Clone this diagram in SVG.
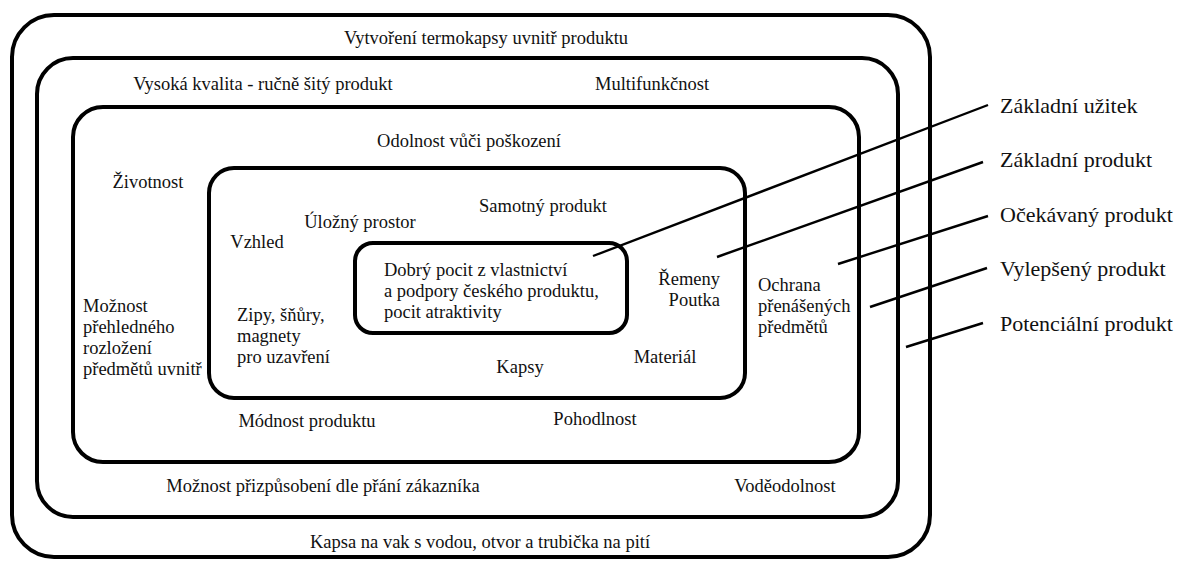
<svg xmlns="http://www.w3.org/2000/svg" width="1178" height="562" viewBox="0 0 1178 562">
<style>
.box{fill:none;stroke:#000;stroke-width:4}
text{font-family:'Liberation Serif','Times New Roman','DejaVu Serif',Times,serif;fill:#111}
.t{font-size:18.5px}
.m{text-anchor:middle}
.lbl{font-size:22px}
.ln{stroke:#000;stroke-width:2.4;fill:none}
</style>
<rect width="1178" height="562" fill="#fff"/>
<g id="potencialni-produkt">
<rect class="box" x="12" y="15" width="918" height="542" rx="42" ry="42"/>
<text class="t m" x="486" y="44">Vytvoření termokapsy uvnitř produktu</text>
<text class="t m" x="480" y="548">Kapsa na vak s vodou, otvor a trubička na pití</text>
</g>
<g id="vylepseny-produkt">
<rect class="box" x="37" y="58" width="861" height="459" rx="36" ry="36"/>
<text class="t m" x="263" y="90">Vysoká kvalita - ručně šitý produkt</text>
<text class="t m" x="652" y="90">Multifunkčnost</text>
<text class="t m" x="323" y="492">Možnost přizpůsobení dle přání zákazníka</text>
<text class="t m" x="785" y="492">Voděodolnost</text>
</g>
<g id="ocekavany-produkt">
<rect class="box" x="73" y="107" width="786" height="355" rx="30" ry="30"/>
<text class="t m" x="469" y="147">Odolnost vůči poškození</text>
<text class="t m" x="148" y="188">Životnost</text>
<text class="t" x="83" y="312">Možnost</text>
<text class="t" x="83" y="333">přehledného</text>
<text class="t" x="83" y="354">rozložení</text>
<text class="t" x="83" y="375">předmětů uvnitř</text>
<text class="t" x="758" y="291">Ochrana</text>
<text class="t" x="758" y="312">přenášených</text>
<text class="t" x="758" y="333">předmětů</text>
<text class="t m" x="307" y="427">Módnost produktu</text>
<text class="t m" x="595" y="425">Pohodlnost</text>
</g>
<g id="zakladni-produkt">
<rect class="box" x="209" y="168" width="536" height="230" rx="25" ry="25"/>
<text class="t m" x="543" y="212">Samotný produkt</text>
<text class="t m" x="360" y="228">Úložný prostor</text>
<text class="t m" x="257" y="248">Vzhled</text>
<text class="t" x="237" y="321">Zipy, šňůry,</text>
<text class="t" x="237" y="342">magnety</text>
<text class="t" x="237" y="363">pro uzavření</text>
<text class="t" x="720" y="285" text-anchor="end">Řemeny</text>
<text class="t" x="720" y="306" text-anchor="end">Poutka</text>
<text class="t m" x="520" y="373">Kapsy</text>
<text class="t m" x="665" y="363">Materiál</text>
</g>
<g id="zakladni-uzitek">
<rect class="box" x="355" y="243" width="272" height="90" rx="18" ry="18"/>
<text class="t" x="384" y="276">Dobrý pocit z vlastnictví</text>
<text class="t" x="384" y="297">a podpory českého produktu,</text>
<text class="t" x="384" y="318">pocit atraktivity</text>
</g>
<g id="labels">
<text class="lbl" x="1000" y="113">Základní užitek</text>
<text class="lbl" x="1000" y="167">Základní produkt</text>
<text class="lbl" x="1000" y="222">Očekávaný produkt</text>
<text class="lbl" x="1000" y="276">Vylepšený produkt</text>
<text class="lbl" x="1000" y="331">Potenciální produkt</text>
</g>
<g id="connectors">
<line class="ln" x1="593" y1="256" x2="988" y2="105"/>
<line class="ln" x1="717" y1="257" x2="983" y2="162"/>
<line class="ln" x1="838" y1="264" x2="988" y2="216"/>
<line class="ln" x1="870" y1="307" x2="987" y2="268"/>
<line class="ln" x1="906" y1="347" x2="983" y2="323"/>
</g>
</svg>
